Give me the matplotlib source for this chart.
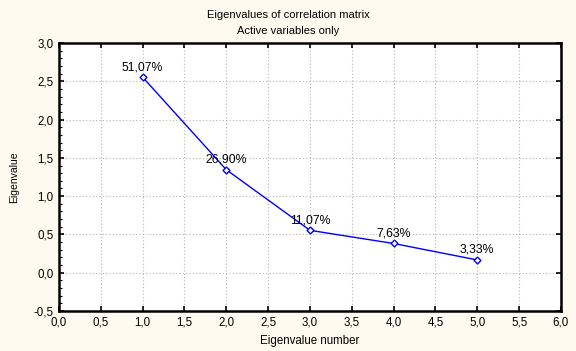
import matplotlib
matplotlib.use('Agg')
import matplotlib.pyplot as plt
from matplotlib.ticker import MultipleLocator, FuncFormatter

eig_number = [1, 2, 3, 4, 5]
eig_values = [2.5535, 1.345, 0.5535, 0.3815, 0.1665]
pct_labels = ['51,07%', '26,90%', '11,07%', '7,63%', '3,33%']

bg = '#fffaf0'
plt.rcParams['font.family'] = ['Liberation Sans', 'DejaVu Sans']

fig = plt.figure(figsize=(5.76, 3.51), dpi=100, facecolor=bg)
ax = fig.add_axes([0.1024, 0.114, 0.8715, 0.7635])
ax.set_facecolor('white')

ax.plot(eig_number, eig_values, color='#0000ff', lw=1.0, marker='D', ms=3.5,
        mfc='white', mec='#0000ff', mew=1.0, zorder=3)
for x, y, lab in zip(eig_number, eig_values, pct_labels):
    ax.annotate(lab, (x, y), xytext=(0, 3), textcoords='offset points',
                ha='center', va='bottom', fontsize=8.8, color='black', zorder=4)

ax.set_xlim(0, 6)
ax.set_ylim(-0.5, 3.0)
ax.xaxis.set_major_locator(MultipleLocator(0.5))
ax.yaxis.set_major_locator(MultipleLocator(0.5))
ax.yaxis.set_minor_locator(MultipleLocator(0.1))
comma = FuncFormatter(lambda v, p: f'{v:.1f}'.replace('.', ','))
ax.xaxis.set_major_formatter(comma)
ax.yaxis.set_major_formatter(comma)

ax.grid(True, which='major', color='#b4b4b4', linestyle=(0, (1, 2)), lw=0.8)
ax.tick_params(which='both', direction='in', top=True, right=True, labelsize=8.3)
ax.tick_params(which='major', length=3.5, width=1.2, pad=4)
ax.tick_params(which='minor', length=2, width=0.8, right=False)
for s in ax.spines.values():
    s.set_linewidth(1.8)

ax.set_xlabel('Eigenvalue number', fontsize=8.3, labelpad=5)
ax.set_ylabel('Eigenvalue', fontsize=7.5, labelpad=10)
fig.text(0.5, 0.958, 'Eigenvalues of correlation matrix', ha='center', va='center', fontsize=8)
fig.text(0.5, 0.912, 'Active variables only', ha='center', va='center', fontsize=8)

fig.savefig('out.png', dpi=100, facecolor=bg)
